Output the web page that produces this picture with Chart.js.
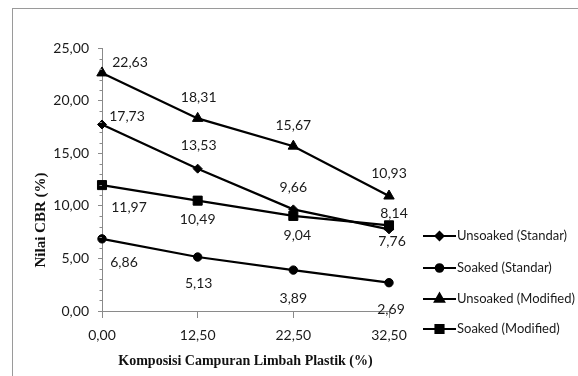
<!DOCTYPE html>
<html>
<head>
<meta charset="utf-8">
<script src="https://cdn.jsdelivr.net/npm/chart.js@4.4.0/dist/chart.umd.min.js"></script>
<style>
  html, body { margin: 0; padding: 0; background: #fff; }
  #wrap { width: 578px; height: 376px; }
</style>
</head>
<body>
<div id="wrap"><canvas id="cbr" width="578" height="376"></canvas></div>
<script>
// Komposisi campuran limbah plastik (%) and CBR values (%)
const komposisi = ['0,00', '12,50', '22,50', '32,50'];
const unsoakedStandar  = [17.73, 13.53, 9.66, 7.76];
const soakedStandar    = [6.86, 5.13, 3.89, 2.69];
const unsoakedModified = [22.63, 18.31, 15.67, 10.93];
const soakedModified   = [11.97, 10.49, 9.04, 8.14];
const seriesNames = ['Unsoaked (Standar)', 'Soaked (Standar)', 'Unsoaked (Modified)', 'Soaked (Modified)'];
const yMin = 0, yMax = 25, yStep = 5, yMinorStep = 1;

// marker shape / size per series
const markerStyle  = ['rectRot', 'circle', 'triangle', 'rect'];
const markerRadius = [4.5, 4.2, 6, 6.4];

// value label placement relative to each point (dx, dy in px)
const labelOffsets = [
  [[25, -8], [1, -23], [0, -22], [3, 12]],
  [[22, 24], [1, 26], [0, 28], [2, 27]],
  [[28, -10], [1, -21], [0, -21], [0, -23]],
  [[27, 22], [0, 19], [4, 20], [5, -12]]
];

const fmt = v => v.toFixed(2).replace('.', ',');
const textColor = '#1a1a1a';
const axisColor = '#8a8a8a';
const numFont = '14px Lato';

const seriesValues = [unsoakedStandar, soakedStandar, unsoakedModified, soakedModified];

const datasets = seriesValues.map((vals, i) => ({
  label: seriesNames[i],
  data: vals,
  borderColor: '#000',
  backgroundColor: '#000',
  borderWidth: 2.2,
  pointStyle: markerStyle[i],
  pointRadius: markerRadius[i],
  pointBorderWidth: 1,
  pointBackgroundColor: '#000',
  pointBorderColor: '#000',
  tension: 0,
  fill: false
}));

const decorations = {
  id: 'decorations',
  beforeDraw(chart) {
    const ctx = chart.ctx;
    ctx.save();
    ctx.fillStyle = '#fff';
    ctx.fillRect(0, 0, chart.width, chart.height);
    ctx.strokeStyle = '#9a9a9a';
    ctx.lineWidth = 1;
    ctx.strokeRect(12.5, 8.5, 620, 420);
    ctx.restore();
  },
  afterDraw(chart) {
    const ctx = chart.ctx;
    const y = chart.scales.y;
    const x = chart.scales.x;
    ctx.save();
    // minor ticks on the value axis
    ctx.strokeStyle = axisColor;
    ctx.lineWidth = 1;
    for (let v = yMin; v <= yMax; v += yMinorStep) {
      if (v % yStep === 0) continue;
      const py = Math.round(y.getPixelForValue(v)) + 0.5;
      ctx.beginPath();
      ctx.moveTo(x.left - 2.5, py);
      ctx.lineTo(x.left, py);
      ctx.stroke();
    }
    // value axis title
    ctx.fillStyle = '#111';
    ctx.font = 'bold 15px "Liberation Serif"';
    ctx.textAlign = 'center';
    ctx.textBaseline = 'middle';
    ctx.translate(41, 220);
    ctx.rotate(-Math.PI / 2);
    ctx.fillText('Nilai CBR (%)', 0, 0);
    ctx.restore();

    // legend
    ctx.save();
    const rows = [236, 268, 299, 329];
    chart.data.datasets.forEach((ds, i) => {
      const ry = rows[i];
      ctx.strokeStyle = '#000';
      ctx.lineWidth = 2;
      ctx.beginPath();
      ctx.moveTo(423, ry);
      ctx.lineTo(456, ry);
      ctx.stroke();
      ctx.fillStyle = '#000';
      Chart.helpers.drawPoint(ctx, {
        pointStyle: ds.pointStyle,
        radius: ds.pointRadius * 0.9,
        borderWidth: 1,
        rotation: 0
      }, 439.5, ry);
      ctx.fillStyle = textColor;
      ctx.font = '13px Lato';
      ctx.textAlign = 'left';
      ctx.textBaseline = 'middle';
      ctx.fillText(ds.label, 457, ry);
    });
    ctx.restore();
  },
  afterDatasetsDraw(chart) {
    const ctx = chart.ctx;
    ctx.save();
    ctx.fillStyle = textColor;
    ctx.font = numFont;
    ctx.textAlign = 'center';
    ctx.textBaseline = 'middle';
    chart.data.datasets.forEach((ds, di) => {
      const meta = chart.getDatasetMeta(di);
      meta.data.forEach((pt, i) => {
        const [dx, dy] = labelOffsets[di][i];
        ctx.fillText(fmt(ds.data[i]), pt.x + dx, pt.y + dy);
      });
    });
    ctx.restore();
  }
};

new Chart(document.getElementById('cbr'), {
  type: 'line',
  data: { labels: komposisi, datasets },
  plugins: [decorations],
  options: {
    responsive: false,
    animation: false,
    devicePixelRatio: 1,
    layout: { padding: { left: 12, right: 189, top: 48, bottom: 0 } },
    plugins: { legend: { display: false }, tooltip: { enabled: false } },
    scales: {
      x: {
        type: 'category',
        offset: false,
        grid: { drawOnChartArea: false, tickLength: 7, color: axisColor, tickColor: axisColor },
        border: { color: axisColor, width: 1 },
        ticks: { color: textColor, font: { family: 'Lato', size: 14 }, padding: 9, maxRotation: 0 },
        title: {
          display: true,
          text: 'Komposisi Campuran Limbah Plastik (%)',
          color: '#111',
          font: { family: 'Liberation Serif', weight: 'bold', size: 14 },
          padding: { top: 0, bottom: 6 }
        },
        afterFit: s => { s.height = 65; }
      },
      y: {
        min: yMin,
        max: yMax,
        grid: { drawOnChartArea: false, tickLength: 4, color: axisColor, tickColor: axisColor },
        border: { color: axisColor, width: 1 },
        ticks: {
          stepSize: yStep,
          color: textColor,
          font: { family: 'Lato', size: 14 },
          padding: 9,
          callback: v => fmt(v)
        },
        afterFit: s => { s.width = 90; }
      }
    }
  }
});
</script>
</body>
</html>
